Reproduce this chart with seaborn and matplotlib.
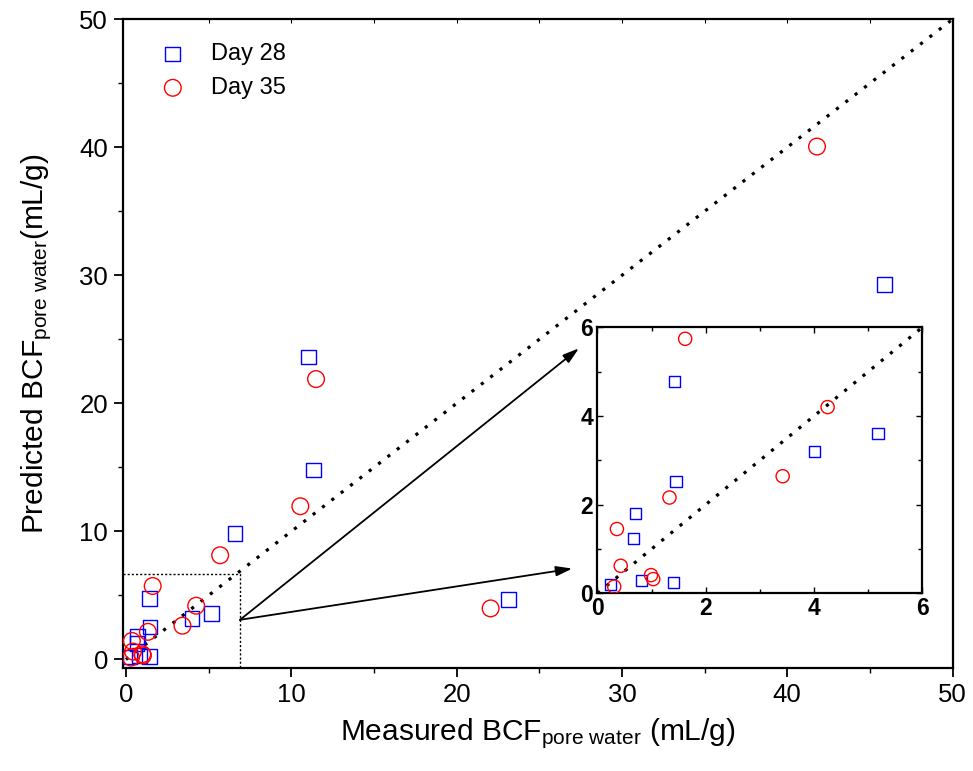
import matplotlib
matplotlib.use("Agg")

import pandas as pd
import matplotlib.pyplot as plt
import seaborn as sns

# -----------------------------
# Data
# -----------------------------

day28_x = [0.24, 0.67, 0.70, 0.82, 1.41, 1.43, 1.45, 4.0, 5.18, 6.6, 11.03, 11.33, 23.15, 45.9]
day28_y = [0.20, 1.23, 1.80, 0.29, 0.25, 4.78, 2.53, 3.20, 3.60, 9.86, 23.63, 14.79, 4.69, 29.3]

day35_x = [0.31, 0.36, 0.43, 0.99, 1.03, 1.33, 1.62, 3.42, 4.25, 5.7, 10.55, 11.5, 22.06, 41.8]
day35_y = [0.15, 1.45, 0.62, 0.41, 0.32, 2.16, 5.74, 2.64, 4.20, 8.14, 11.97, 21.9, 3.99, 40.06]

main_ticks = [0, 10, 20, 30, 40, 50]
main_minor = [5, 15, 25, 35, 45]
inset_ticks = [0, 2, 4, 6]
inset_minor = [1, 3, 5]
diag_main = [0, 50]
diag_inset = [0, 6]

df28 = pd.DataFrame({"x": day28_x, "y": day28_y})
df35 = pd.DataFrame({"x": day35_x, "y": day35_y})

# -----------------------------
# Style
# -----------------------------

sns.set_style("ticks", {
    "axes.edgecolor": "black",
    "axes.labelcolor": "black",
    "text.color": "black",
    "xtick.color": "black",
    "ytick.color": "black",
})
plt.rcParams["font.family"] = ["Liberation Sans", "DejaVu Sans"]
plt.rcParams["mathtext.fontset"] = "custom"
plt.rcParams["mathtext.rm"] = "Liberation Sans"
plt.rcParams["mathtext.it"] = "Liberation Sans:italic"

fig = plt.figure(figsize=(9.73, 7.71), dpi=100)
ax = fig.add_axes([0.126, 0.133, 0.853, 0.842])

# -----------------------------
# Main plot
# -----------------------------

ax.plot(diag_main, diag_main, color="black", lw=2.3, ls=(0, (1, 2.7)), zorder=1)

sns.scatterplot(data=df28, x="x", y="y", ax=ax, marker="s", s=112,
                facecolors="none", edgecolor="blue", linewidth=1.0,
                label="Day 28", zorder=3)
sns.scatterplot(data=df35, x="x", y="y", ax=ax, marker="o", s=144,
                facecolors="none", edgecolor="red", linewidth=1.0,
                label="Day 35", zorder=3)

# zoom box and arrows
ax.plot([-0.2, 6.9, 6.9], [6.7, 6.7, -0.7], color="black", lw=1.0,
        ls=(0, (1.5, 1.5)), zorder=2)
arrow = dict(arrowstyle="-|>,head_length=0.65,head_width=0.2", color="black",
             lw=1.3, mutation_scale=15, shrinkA=0, shrinkB=0)
ax.annotate("", xy=(27.4, 24.3), xytext=(6.9, 3.1), arrowprops=arrow)
ax.annotate("", xy=(27.0, 7.1), xytext=(6.9, 3.1), arrowprops=arrow)

ax.set_xlim(-0.2, 50)
ax.set_ylim(-0.7, 50)
ax.set_xticks(main_ticks)
ax.set_yticks(main_ticks)
ax.set_xticks(main_minor, minor=True)
ax.set_yticks(main_minor, minor=True)
ax.tick_params(which="major", direction="out", length=6.5, width=1.3,
               labelsize=18.5, pad=4)
ax.tick_params(which="minor", direction="out", length=3.5, width=1.0)
for sp in ax.spines.values():
    sp.set_visible(True)
    sp.set_linewidth(1.6)

# small inward ticks along the top edge
top = ax.secondary_xaxis("top")
top.set_xticks(list(range(5, 50, 5)))
top.tick_params(direction="in", length=3, width=0.8, labeltop=False)
top.spines["top"].set_visible(False)

ax.set_xlabel(r"Measured BCF$_{\mathrm{pore\ water}}$ (mL/g)", fontsize=21.5, labelpad=7)
ax.set_ylabel(r"Predicted BCF$_{\mathrm{pore\ water}}$(mL/g)", fontsize=21.5, labelpad=18)

leg = ax.legend(loc="upper left", bbox_to_anchor=(0.015, 0.985), frameon=False,
                fontsize=17, handletextpad=0.6, labelspacing=0.5,
                borderaxespad=0.2)

# -----------------------------
# Inset
# -----------------------------

axin = fig.add_axes([0.614, 0.2305, 0.334, 0.345])
axin.plot(diag_inset, diag_inset, color="black", lw=2.3, ls=(0, (1, 2.7)), zorder=1)

sns.scatterplot(data=df28, x="x", y="y", ax=axin, marker="s", s=64,
                facecolors="none", edgecolor="blue", linewidth=1.0,
                legend=False, zorder=3)
sns.scatterplot(data=df35, x="x", y="y", ax=axin, marker="o", s=90,
                facecolors="none", edgecolor="red", linewidth=1.0,
                legend=False, zorder=3)

axin.set_xlim(0, 6)
axin.set_ylim(0, 6)
axin.set_xticks(inset_ticks)
axin.set_yticks(inset_ticks)
axin.set_xticks(inset_minor, minor=True)
axin.set_yticks(inset_minor, minor=True)
axin.tick_params(which="both", direction="in", top=True, right=True,
                 width=1.0, labelsize=16.5, pad=3)
axin.tick_params(which="major", length=4)
axin.tick_params(which="minor", length=3)
for lab in axin.get_xticklabels() + axin.get_yticklabels():
    lab.set_fontweight("bold")
axin.set_xlabel("")
axin.set_ylabel("")
for sp in axin.spines.values():
    sp.set_visible(True)
    sp.set_linewidth(1.6)

fig.savefig("out.png", dpi=100)
plt.close()
